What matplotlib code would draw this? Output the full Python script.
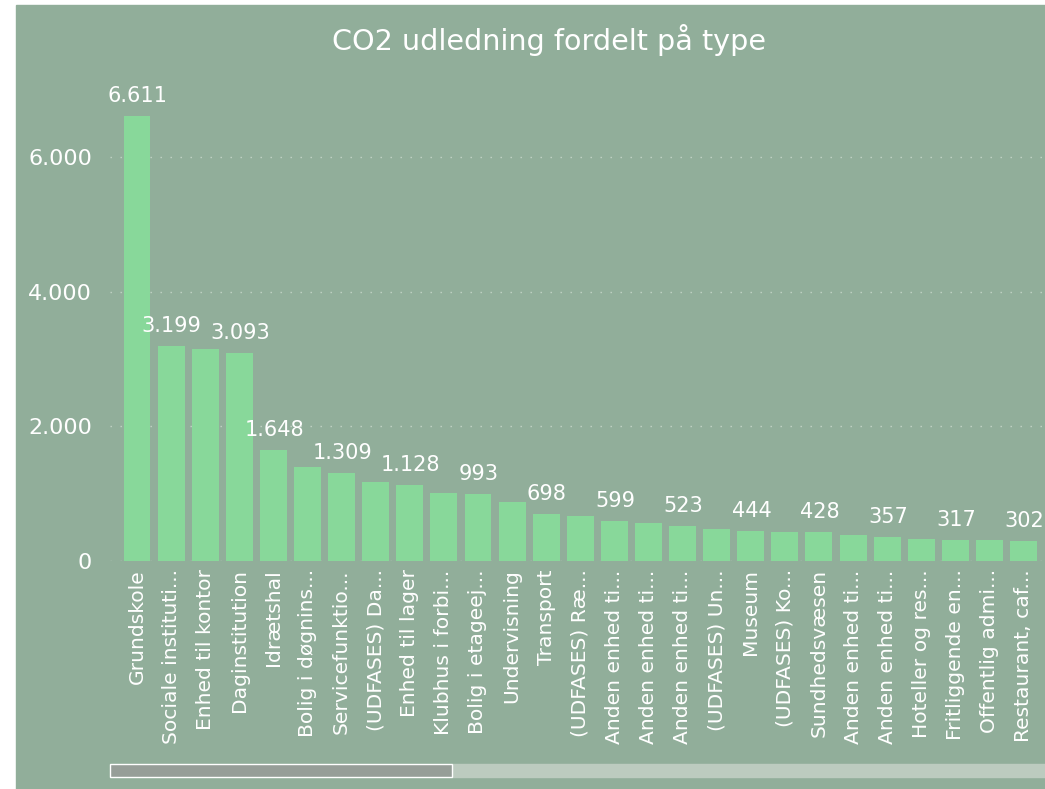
import matplotlib
matplotlib.use("Agg")
import matplotlib.pyplot as plt
from matplotlib.patches import Rectangle

# data
categories = [
    "Grundskole", "Sociale instituti...", "Enhed til kontor", "Daginstitution",
    "Idrætshal", "Bolig i døgnins...", "Servicefunktio...", "(UDFASES) Da...",
    "Enhed til lager", "Klubhus i forbi...", "Bolig i etageej...", "Undervisning",
    "Transport", "(UDFASES) Ræ...", "Anden enhed ti...", "Anden enhed ti...",
    "Anden enhed ti...", "(UDFASES) Un...", "Museum", "(UDFASES) Ko...",
    "Sundhedsvæsen", "Anden enhed ti...", "Anden enhed ti...", "Hoteller og res...",
    "Fritliggende en...", "Offentlig admi...", "Restaurant, caf...",
]
values = [
    6611, 3199, 3150, 3093, 1648, 1390, 1309, 1170, 1128, 1010, 993, 872,
    698, 669, 599, 565, 523, 476, 444, 436, 428, 391, 357, 321, 317, 314, 302,
]
# bars whose value label is visible in the reference
labelled = [0, 1, 3, 4, 6, 8, 10, 12, 14, 16, 18, 20, 22, 24, 26]
y_ticks = [0, 2000, 4000, 6000]
title = "CO2 udledning fordelt på type"

BG = "#91ae9a"
BAR = "#88d89a"
W, H = 1045, 789


def fmt(v):
    return f"{v:,}".replace(",", ".")


fig = plt.figure(figsize=(W / 100, H / 100), dpi=100, facecolor="white")
# green panel (small white margin at top / left like the screenshot)
fig.add_artist(Rectangle((16 / W, 0), 1 - 16 / W, (H - 5) / H,
                         transform=fig.transFigure, color=BG, zorder=-10))

ax = fig.add_axes([110 / W, (H - 561) / H, 935 / W, 481 / H])
ax.set_facecolor("none")
for s in ax.spines.values():
    s.set_visible(False)

x = range(len(values))
ax.bar(x, values, width=0.79, color=BAR, zorder=2)
ax.set_xlim(-0.792, 26.63)
ax.set_ylim(0, 7144)

ax.set_yticks(y_ticks)
ax.set_yticklabels([fmt(v) for v in y_ticks])
ax.set_xticks(list(x))
ax.set_xticklabels(categories, rotation=90)
ax.tick_params(axis="y", length=0, pad=13, labelsize=16, labelcolor="white")
ax.tick_params(axis="x", length=0, pad=6, labelsize=14.6, labelcolor="white")

ax.grid(axis="y", color="#c3d4c6", lw=1.0, ls=(0, (1, 6.2)), zorder=1)
ax.set_axisbelow(True)

for i in labelled:
    ax.annotate(fmt(values[i]), (i, values[i]), xytext=(0.5, 7),
                textcoords="offset points", ha="center", va="bottom",
                fontsize=15, color="white", annotation_clip=False, zorder=3)

fig.text(549 / W, 1 - 40 / H, title, ha="center", va="center",
         fontsize=20.6, color="white")

# scrollbar strip under the axis labels
fig.add_artist(Rectangle((452 / W, (H - 777) / H), (W - 452) / W, 13 / H,
                         transform=fig.transFigure, color="#bccbbf", zorder=5))
fig.add_artist(Rectangle((110 / W, (H - 777) / H), 342 / W, 13 / H,
                         transform=fig.transFigure, facecolor="#969e98",
                         edgecolor="white", lw=1.0, zorder=6))

fig.savefig("out.png", dpi=100, facecolor=fig.get_facecolor())
